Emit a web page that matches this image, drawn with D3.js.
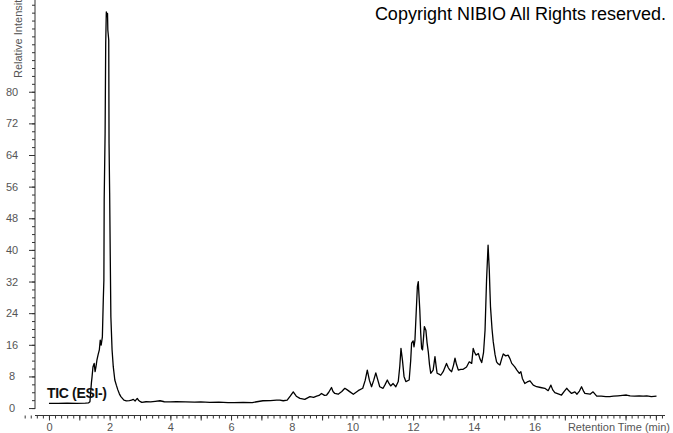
<!DOCTYPE html>
<html>
<head>
<meta charset="utf-8">
<script src="https://cdn.jsdelivr.net/npm/d3@7"></script>
<style>
  body { margin: 0; background: #fff; }
  #chart svg { display: block; }
</style>
</head>
<body>
<div id="chart"></div>
<script>
// retention time (min) and relative intensity
const rtMin = [0.00, 0.30, 0.60, 0.90, 1.20, 1.30, 1.35, 1.40, 1.42, 1.45, 1.49, 1.52, 1.55, 1.58, 1.62, 1.66, 1.69, 1.72, 1.76, 1.79,
    1.81, 1.82, 1.85, 1.87, 1.89, 1.91, 1.93, 1.94, 1.97, 1.98, 2.00, 2.02, 2.04, 2.08, 2.12, 2.17, 2.22, 2.27, 2.32, 2.37,
    2.47, 2.55, 2.65, 2.72, 2.78, 2.84, 2.91, 2.96, 3.00, 3.06, 3.20, 3.35, 3.50, 3.66, 3.80, 3.99, 4.20, 4.50, 4.80, 5.00,
    5.30, 5.60, 5.90, 6.10, 6.40, 6.70, 6.85, 7.05, 7.30, 7.50, 7.61, 7.72, 7.85, 7.95, 8.05, 8.15, 8.27, 8.43, 8.60, 8.72,
    8.82, 8.90, 8.98, 9.08, 9.15, 9.22, 9.31, 9.36, 9.42, 9.53, 9.65, 9.75, 9.83, 9.92, 10.03, 10.19, 10.34, 10.42, 10.49, 10.56,
    10.63, 10.70, 10.77, 10.84, 10.90, 11.01, 11.08, 11.15, 11.20, 11.26, 11.34, 11.43, 11.51, 11.56, 11.60, 11.65, 11.70, 11.76, 11.87, 11.92,
    11.95, 12.00, 12.03, 12.06, 12.10, 12.14, 12.17, 12.19, 12.22, 12.25, 12.28, 12.31, 12.34, 12.37, 12.42, 12.46, 12.50, 12.54, 12.58, 12.66,
    12.72, 12.76, 12.79, 12.85, 12.91, 12.99, 13.10, 13.16, 13.21, 13.27, 13.33, 13.38, 13.43, 13.49, 13.57, 13.65, 13.76, 13.85, 13.93, 13.98,
    14.02, 14.07, 14.15, 14.20, 14.26, 14.32, 14.37, 14.42, 14.47, 14.49, 14.51, 14.53, 14.55, 14.60, 14.64, 14.70, 14.75, 14.80, 14.86, 14.92,
    14.97, 15.05, 15.13, 15.19, 15.25, 15.35, 15.42, 15.50, 15.55, 15.60, 15.68, 15.76, 15.85, 15.96, 16.07, 16.20, 16.34, 16.45, 16.54, 16.60,
    16.67, 16.78, 16.89, 16.98, 17.06, 17.14, 17.22, 17.33, 17.40, 17.48, 17.55, 17.62, 17.66, 17.83, 17.93, 18.05, 18.20, 18.35, 18.48, 18.60,
    18.75, 18.90, 19.03, 19.15, 19.30, 19.45, 19.58, 19.70, 19.85, 20.02];
const relIntensity = [1.2, 1.2, 1.25, 1.2, 1.25, 1.3, 1.6, 6.5, 7.9, 10.4, 11.3, 9.2, 10.5, 12.1, 13.5, 14.7, 17.2, 15.9, 18.0, 27.3,
    32.4, 52.6, 69.5, 92.3, 100.2, 99.0, 99.8, 95.6, 93.1, 67.0, 54.4, 38.3, 23.1, 14.7, 10.4, 7.1, 5.8, 4.6, 3.6, 2.9,
    2.0, 1.8, 1.9, 2.0, 2.2, 1.8, 2.45, 1.9, 1.7, 1.45, 1.6, 1.55, 1.7, 1.85, 1.6, 1.55, 1.6, 1.55, 1.5, 1.55,
    1.45, 1.5, 1.4, 1.4, 1.45, 1.4, 1.6, 1.85, 1.9, 2.0, 2.0, 1.85, 2.0, 3.0, 4.1, 3.0, 2.45, 2.2, 2.9, 2.7,
    3.0, 3.2, 3.7, 3.2, 3.3, 4.0, 5.2, 4.2, 3.7, 3.5, 4.2, 5.0, 4.6, 4.1, 3.5, 4.4, 5.0, 7.0, 9.6, 7.0,
    5.4, 7.0, 8.9, 7.0, 5.4, 5.0, 6.0, 7.1, 6.3, 5.6, 6.2, 5.4, 6.7, 10.5, 15.1, 12.0, 8.0, 6.7, 7.1, 12.0,
    16.4, 17.0, 15.5, 17.2, 24.0, 30.7, 32.0, 29.0, 24.8, 19.0, 15.1, 14.7, 17.5, 20.6, 19.7, 16.5, 14.2, 11.0, 8.8, 9.6,
    13.0, 10.5, 8.8, 8.6, 8.3, 9.2, 11.3, 10.2, 9.6, 9.2, 10.8, 12.6, 11.0, 9.6, 9.8, 9.8, 10.4, 11.7, 11.3, 15.1,
    14.2, 13.4, 13.8, 12.5, 11.5, 14.0, 19.7, 32.4, 41.2, 38.0, 34.9, 30.0, 25.6, 20.0, 16.8, 13.5, 11.7, 11.2, 10.9, 12.5,
    13.7, 13.2, 13.4, 12.5, 11.3, 10.4, 9.6, 8.8, 9.2, 7.5, 6.2, 6.6, 6.9, 5.8, 5.4, 5.2, 5.0, 4.4, 5.8, 4.6,
    3.9, 3.6, 3.3, 4.2, 5.0, 4.3, 3.7, 4.1, 3.5, 4.3, 5.4, 4.2, 3.7, 3.5, 4.1, 3.0, 3.0, 2.9, 2.9, 3.0,
    3.1, 3.2, 3.3, 3.1, 3.0, 3.1, 3.0, 3.1, 2.9, 3.0];

// axis ticks
const yLabelTicks = [0, 8, 16, 24, 32, 40, 48, 56, 64, 72, 80];
const xLabelTicks = [0, 2, 4, 6, 8, 10, 12, 14, 16];

class ticVis {
    constructor(parentElement) {
        this.parentElement = parentElement;
        this.data = rtMin.map((t, i) => ({t: t, v: relIntensity[i]}));

        let vis = this;
        vis.width = 673;
        vis.height = 433;
        vis.left = 35;          // y axis line
        vis.right = 665;        // end of x axis line
        vis.axisY = 415.5;      // x axis line
        this.initVis();
    }

    initVis() {
        let vis = this;
        vis.svg = d3.select("#" + vis.parentElement)
            .append("svg")
            .attr("width", vis.width)
            .attr("height", vis.height)
            .style("font-family", "'Liberation Sans', Arial, sans-serif");

        vis.x = d3.scaleLinear()
            .domain([-0.46, 20.3])
            .range([vis.left, vis.right]);

        vis.y = d3.scaleLinear()
            .domain([-1.5, 103.2])
            .range([414, 0]);

        // y axis: minor ticks every 2, labels every 8
        vis.svg.append("g")
            .attr("transform", "translate(" + vis.left + ",0)")
            .call(d3.axisLeft(vis.y).tickValues(d3.range(0, 103, 2)).tickSize(3).tickFormat(""))
            .call(g => g.select(".domain").remove())
            .selectAll("line").attr("stroke", "#333");

        let yAx = vis.svg.append("g")
            .attr("transform", "translate(" + vis.left + ",0)")
            .call(d3.axisLeft(vis.y).tickValues(yLabelTicks).tickSize(6).tickFormat(d3.format("d")))
            .call(g => g.select(".domain").remove());
        yAx.selectAll("line").attr("stroke", "#333");
        yAx.selectAll("text")
            .attr("x", 12 - vis.left)
            .attr("text-anchor", "middle")
            .attr("fill", "#555")
            .style("font-size", "11px");

        vis.svg.append("line")
            .attr("x1", vis.left).attr("x2", vis.left)
            .attr("y1", 0).attr("y2", 409)
            .attr("stroke", "#333");

        // x axis: minor every 0.2, longer at whole minutes
        vis.svg.append("g")
            .attr("transform", "translate(0," + vis.axisY + ")")
            .call(d3.axisBottom(vis.x).tickValues(d3.range(-4, 102).map(d => d / 5)).tickSize(3).tickFormat(""))
            .call(g => g.select(".domain").remove())
            .selectAll("line").attr("stroke", "#333");

        let xAx = vis.svg.append("g")
            .attr("transform", "translate(0," + vis.axisY + ")")
            .call(d3.axisBottom(vis.x).tickValues(d3.range(0, 21, 1)).tickSize(5)
                .tickFormat(d => xLabelTicks.includes(d) ? d : ""))
            .call(g => g.select(".domain").remove());
        xAx.selectAll("line").attr("stroke", "#333");
        xAx.selectAll("text")
            .attr("y", 7.5)
            .attr("fill", "#555")
            .style("font-size", "11px");

        vis.svg.append("line")
            .attr("x1", vis.left).attr("x2", vis.right)
            .attr("y1", vis.axisY).attr("y2", vis.axisY)
            .attr("stroke", "#333");

        // trace
        let line = d3.line()
            .x(d => vis.x(d.t))
            .y(d => vis.y(d.v));

        vis.svg.append("path")
            .datum(vis.data)
            .attr("d", line)
            .attr("fill", "none")
            .attr("stroke", "#000")
            .attr("stroke-width", 1.3)
            .attr("stroke-linejoin", "round");

        // labels
        vis.svg.append("text")
            .attr("transform", "translate(22,78) rotate(-90)")
            .attr("text-anchor", "start")
            .attr("fill", "#555")
            .style("font-size", "11px")
            .text("Relative Intensity");

        vis.svg.append("text")
            .attr("x", 670)
            .attr("y", 431)
            .attr("text-anchor", "end")
            .attr("fill", "#555")
            .style("font-size", "11px")
            .text("Retention Time (min)");

        vis.svg.append("text")
            .attr("x", 47)
            .attr("y", 398)
            .attr("textLength", 60)
            .style("font-size", "14px")
            .style("font-weight", "bold")
            .attr("fill", "#111")
            .text("TIC (ESI-)");

        vis.svg.append("text")
            .attr("x", 666)
            .attr("y", 20)
            .attr("text-anchor", "end")
            .style("font-size", "18px")
            .attr("fill", "#000")
            .text("Copyright NIBIO All Rights reserved.");
    }
}

new ticVis("chart");
</script>
</body>
</html>
